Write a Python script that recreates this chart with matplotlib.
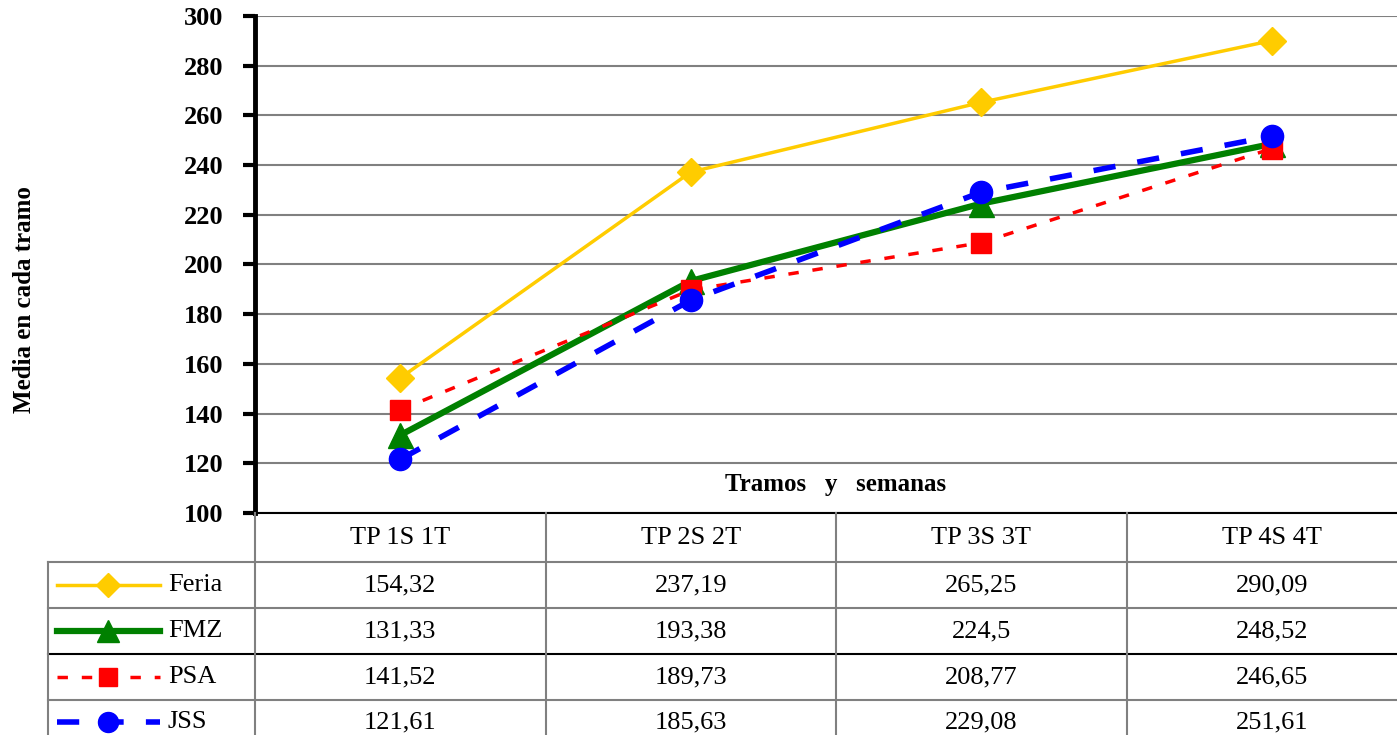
import matplotlib
matplotlib.use("Agg")
import matplotlib.pyplot as plt
from matplotlib.lines import Line2D
import matplotlib.transforms as mtransforms

categories = ["TP 1S 1T", "TP 2S 2T", "TP 3S 3T", "TP 4S 4T"]
series_names = ["Feria", "FMZ", "PSA", "JSS"]
feria = [154.32, 237.19, 265.25, 290.09]
fmz = [131.33, 193.38, 224.5, 248.52]
psa = [141.52, 189.73, 208.77, 246.65]
jss = [121.61, 185.63, 229.08, 251.61]
yticks = [100, 120, 140, 160, 180, 200, 220, 240, 260, 280, 300]

series = [feria, fmz, psa, jss]
styles = [
    dict(color="#FFCC00", lw=2.5, ls="-", marker="D", ms=14),
    dict(color="#008000", lw=4.5, ls="-", marker="^", ms=18),
    dict(color="#FF0000", lw=2.5, ls=(0, (3, 4)), marker="s", ms=15),
    dict(color="#0000FF", lw=4, ls=(0, (4, 4)), marker="o", ms=16),
]

W, H = 1397, 735
fig = plt.figure(figsize=(W / 100, H / 100), dpi=100)
serif = ["Liberation Serif", "DejaVu Serif"]
plt.rcParams["font.family"] = serif

x0, x1, ytop, ybot = 255, 1397, 16, 513
ax = fig.add_axes([x0 / W, (H - ybot) / H, (x1 - x0) / W, (ybot - ytop) / H])
cat_w = 290.5
xs = list(range(len(categories)))
ax.set_xlim(-0.5, -0.5 + (x1 - x0) / cat_w)
ax.set_ylim(100, 300)
ax.set_yticks(yticks)
ax.set_yticklabels([str(v) for v in yticks], fontsize=19, fontweight="bold")
ax.set_xticks([])
for s in ["top", "right"]:
    ax.spines[s].set_visible(False)
ax.spines["left"].set_linewidth(3.5)
ax.spines["bottom"].set_linewidth(1.5)
ax.tick_params(axis="y", direction="out", length=9, width=3, pad=14)
ax.yaxis.grid(True, color="#808080", lw=1.5)
ax.set_axisbelow(True)

for vals, st in zip(series, styles):
    ax.plot(xs, vals, color=st["color"], lw=st["lw"], ls=st["ls"], marker=st["marker"],
            ms=st["ms"], mec=st["color"], mfc=st["color"], zorder=3)

fig.text(836 / W, 1 - 485 / H, "Tramos   y   semanas", ha="center", va="center",
         fontsize=18, fontweight="bold")
fig.text(25 / W, 1 - 300 / H, "Media en cada tramo", rotation=90, ha="center",
         va="center", fontsize=18, fontweight="bold")

# data table
def fy(py):
    return 1 - py / H

gray = "#808080"
row_edges = [513, 562, 608, 654, 700, 746]
col_edges = [x0 + cat_w * i for i in range(5)]
for py in row_edges[1:-1]:
    col = "black" if py == 654 else gray
    fig.add_artist(Line2D([48 / W, 1], [fy(py), fy(py)], color=col, lw=1.5,
                          transform=fig.transFigure))
for cx in col_edges:
    fig.add_artist(Line2D([cx / W, cx / W], [fy(513), 0], color=gray, lw=1.5,
                          transform=fig.transFigure))
fig.add_artist(Line2D([48 / W, 48 / W], [fy(562), 0], color=gray, lw=1.5,
                      transform=fig.transFigure))

trans = mtransforms.blended_transform_factory(ax.transData, fig.transFigure)
hdr_y = fy(538)
for xi, c in zip(xs, categories):
    ax.text(xi, hdr_y, c, transform=trans, ha="center", va="center", fontsize=19,
            clip_on=False)
row_centers = [585, 631, 677, 722]
for vals, name, st, ry in zip(series, series_names, styles, row_centers):
    for xi, v in zip(xs, vals):
        ax.text(xi, fy(ry), f"{v:g}".replace(".", ","), transform=trans, ha="center",
                va="center", fontsize=19, clip_on=False)
    fig.add_artist(Line2D([57 / W, 160 / W], [fy(ry), fy(ry)], color=st["color"],
                          lw=st["lw"], ls=st["ls"], transform=fig.transFigure))
    fig.add_artist(Line2D([108 / W], [fy(ry)], color=st["color"], marker=st["marker"],
                          ms=st["ms"] * 0.9, mfc=st["color"], mec=st["color"], ls="none",
                          transform=fig.transFigure))
    fig.text(168 / W, fy(ry), name, ha="left", va="center", fontsize=19)

fig.savefig("out.png", dpi=100)
